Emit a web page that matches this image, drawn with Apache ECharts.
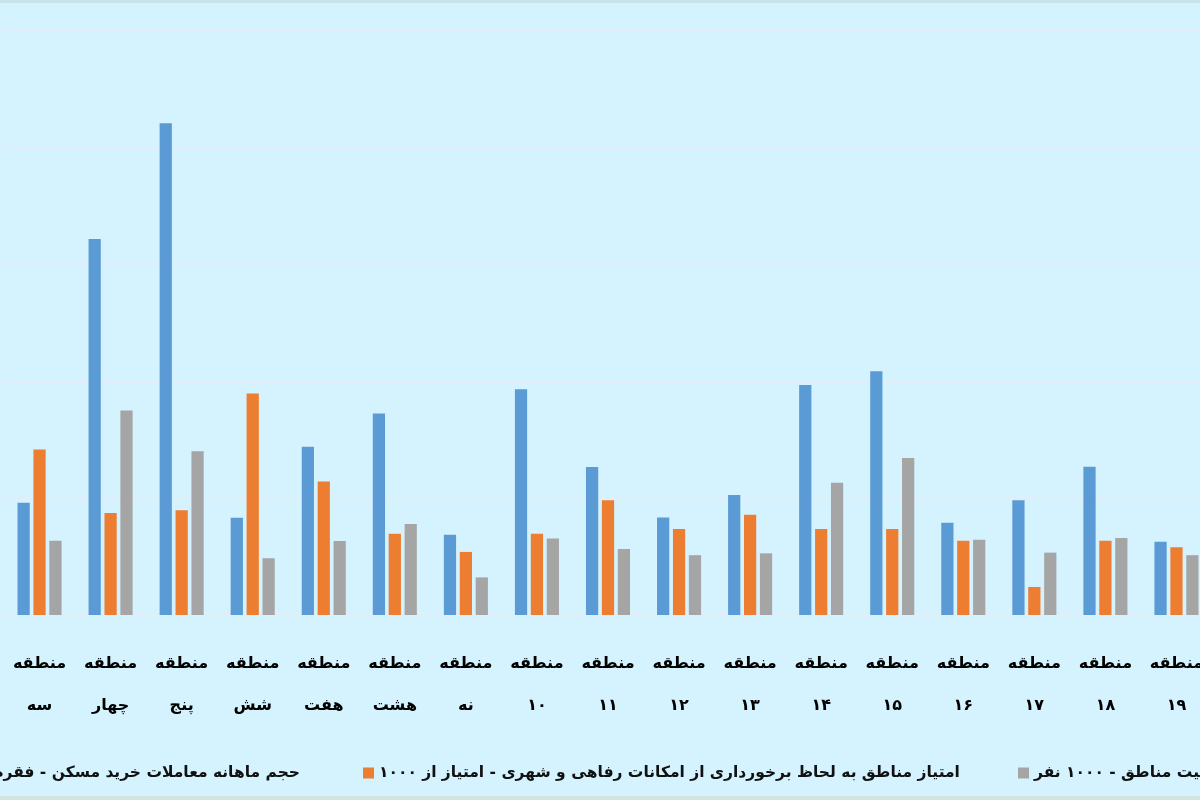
<!DOCTYPE html>
<html>
<head>
<meta charset="utf-8">
<script src="https://cdn.jsdelivr.net/npm/echarts@6/dist/echarts.min.js"></script>
<style>
html,body{margin:0;padding:0;background:#d5f3fe;}
#chart{width:1200px;height:800px;}
</style>
</head>
<body>
<div id="chart"></div>
<script>
const categories = ['منطقه\nسه','منطقه\nچهار','منطقه\nپنج','منطقه\nشش','منطقه\nهفت','منطقه\nهشت','منطقه\nنه','منطقه\n۱۰','منطقه\n۱۱','منطقه\n۱۲','منطقه\n۱۳','منطقه\n۱۴','منطقه\n۱۵','منطقه\n۱۶','منطقه\n۱۷','منطقه\n۱۸','منطقه\n۱۹'];
const seriesNames = [
  'حجم ماهانه معاملات خرید مسکن - فقره',
  'امتیاز مناطق به لحاظ برخورداری از امکانات رفاهی و شهری - امتیاز از ۱۰۰۰',
  'جمعیت مناطق - ۱۰۰۰ نفر'
];
const transactions = [481,1610,2105,416,720,863,344,966,634,417,514,985,1043,395,491,635,314];
const amenityScore = [709,437,448,948,571,348,270,348,491,368,429,368,368,318,120,318,290];
const population = [318,875,701,243,317,390,161,327,283,256,264,566,672,322,267,330,256];
const yTicks = [0,500,1000,1500,2000,2500];

const colors = ['#5b9bd5','#ed7d31','#a5a5a5'];
const fontFam = '"DejaVu Sans", sans-serif';
const chart = echarts.init(document.getElementById('chart'));
const legendBase = {
  orient:'horizontal', top:765, padding:0, itemWidth:11, itemHeight:11, icon:'rect', itemGap:8,
  textStyle:{fontFamily:fontFam, fontSize:15.5, fontWeight:'bold', color:'#111'}
};
chart.setOption({
  backgroundColor:'#d5f3fe',
  animation:false,
  color:colors,
  legend:[
    Object.assign({}, legendBase, {data:[seriesNames[0]], right:900}),
    Object.assign({}, legendBase, {data:[seriesNames[1]], left:363}),
    Object.assign({}, legendBase, {data:[seriesNames[2]], left:1018})
  ],
  grid:{left:4, right:-12, top:31, bottom:185, outerBoundsMode:'none'},
  xAxis:{
    type:'category', data:categories,
    axisLine:{show:true, lineStyle:{color:'#e6ebf4', width:1.5}},
    axisTick:{show:false},
    axisLabel:{interval:0, margin:28, fontFamily:fontFam, fontSize:16, fontWeight:'bold', color:'#000', lineHeight:42}
  },
  yAxis:{
    type:'value', min:yTicks[0], max:yTicks[yTicks.length-1], interval:yTicks[1]-yTicks[0],
    axisLabel:{show:false}, axisLine:{show:false}, axisTick:{show:false},
    splitLine:{lineStyle:{color:'#e6ebf4', width:1.5}}
  },
  series:[
    {name:seriesNames[0], type:'bar', data:transactions, barGap:'30%', barCategoryGap:'38%'},
    {name:seriesNames[1], type:'bar', data:amenityScore, barGap:'30%', barCategoryGap:'38%'},
    {name:seriesNames[2], type:'bar', data:population, barGap:'30%', barCategoryGap:'38%'}
  ],
  graphic:[
    {type:'rect', left:0, top:0, shape:{width:1200, height:3}, style:{fill:'#c9e3ea'}},
    {type:'rect', left:0, top:796, shape:{width:1200, height:4}, style:{fill:'#d3e3e0'}}
  ]
});
</script>
</body>
</html>
